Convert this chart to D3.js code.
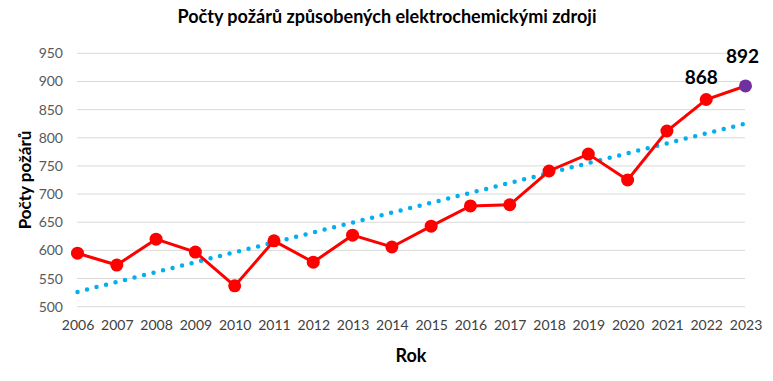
<!DOCTYPE html>
<html><head><meta charset="utf-8">
<script src="https://cdn.jsdelivr.net/npm/d3@7"></script>
<style>body{margin:0;background:#fff}svg{display:block}</style>
</head><body>
<script>
const years = [2006,2007,2008,2009,2010,2011,2012,2013,2014,2015,2016,2017,2018,2019,2020,2021,2022,2023];
const fires = [595,574,620,597,537,617,579,627,606,643,679,681,741,771,725,812,868,892];
const yTicks = [500,550,600,650,700,750,800,850,900,950];
const labeledYears = [2022,2023];

const W=773,H=381;
const svg=d3.select("body").append("svg").attr("width",W).attr("height",H);
const font="Lato, 'Open Sans', sans-serif";
const x=d3.scalePoint().domain(years).range([77.5,745.5]);
const y=d3.scaleLinear().domain([500,950]).range([306.7,53.3]);

// grid
svg.append("g").selectAll("line").data(yTicks).join("line")
 .attr("x1",77).attr("x2",745).attr("y1",d=>y(d)).attr("y2",d=>y(d))
 .attr("stroke","#d9d9d9").attr("stroke-width",1);

const ya=d3.axisLeft(y).tickValues(yTicks).tickSize(0).tickPadding(0);
const gy=svg.append("g").attr("transform","translate(63,0)").call(ya);
gy.select(".domain").remove();
gy.selectAll("text").attr("font-family",font).attr("font-size",14).attr("fill","#595959");

const xa=d3.axisBottom(x).tickSize(0).tickPadding(0);
const gx=svg.append("g").attr("transform","translate(0,320)").call(xa);
gx.select(".domain").remove();
gx.selectAll("text").attr("font-family",font).attr("font-size",14).attr("fill","#404040").attr("dy","0.71em");

// trend (least squares)
const n=years.length, idx=years.map((_,i)=>i);
const mx=d3.mean(idx), my=d3.mean(fires);
const b=d3.sum(idx,i=>(i-mx)*(fires[i]-my))/d3.sum(idx,i=>(i-mx)*(i-mx));
const a=my-b*mx;
svg.append("line")
 .attr("x1",x(years[0])).attr("y1",y(a)).attr("x2",x(years[n-1])).attr("y2",y(a+b*(n-1)))
 .attr("stroke","#00b0f0").attr("stroke-width",4.5).attr("stroke-linecap","round")
 .attr("stroke-dasharray","0 9.8");

// line
svg.append("path").datum(years.map((yr,i)=>[yr,fires[i]]))
 .attr("d",d3.line().x(d=>x(d[0])).y(d=>y(d[1])))
 .attr("fill","none").attr("stroke","#ff0000").attr("stroke-width",3);

svg.append("g").selectAll("circle").data(years.map((yr,i)=>[yr,fires[i],i]))
 .join("circle").attr("cx",d=>x(d[0])).attr("cy",d=>y(d[1])).attr("r",6.5)
 .attr("fill",d=>d[2]===n-1?"#7030a0":"#ff0000");

svg.append("g").selectAll("text").data(labeledYears).join("text")
 .attr("x",d=>x(d)-(d===2023?3:5)).attr("y",d=>y(fires[years.indexOf(d)])-(d===2023?23:15))
 .attr("text-anchor","middle").attr("font-family",font).attr("font-weight","bold")
 .attr("font-size",19).attr("fill","#000").text(d=>fires[years.indexOf(d)]);

svg.append("text").attr("x",387).attr("y",23).attr("text-anchor","middle")
 .attr("font-family",font).attr("font-weight","bold").attr("font-size",18).attr("fill","#000")
 .text("Počty požárů způsobených elektrochemickými zdroji");

svg.append("text").attr("x",411).attr("y",362).attr("text-anchor","middle")
 .attr("font-family",font).attr("font-weight","bold").attr("font-size",18).attr("fill","#000").text("Rok");

svg.append("text").attr("transform","translate(31,180) rotate(-90)").attr("text-anchor","middle")
 .attr("font-family",font).attr("font-weight","bold").attr("font-size",17).attr("fill","#000").text("Počty požárů");
</script>
</body></html>
